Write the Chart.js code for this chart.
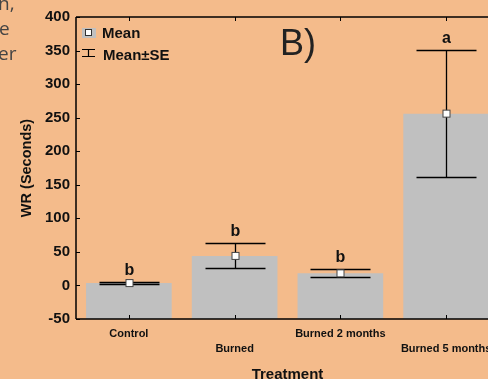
<!DOCTYPE html>
<html>
<head>
<meta charset="utf-8">
<script src="https://cdn.jsdelivr.net/npm/chart.js@4.4.1/dist/chart.umd.min.js"></script>
<style>
  html, body { margin: 0; padding: 0; background: #f4bb8b; overflow: hidden; }
  #wrap { position: relative; width: 488px; height: 379px; overflow: hidden; }
  canvas { position: absolute; left: 0; top: 0; }
</style>
</head>
<body>
<div id="wrap"><canvas id="grafico" width="510" height="379"></canvas></div>
<script>
var categorias = ['Control', 'Burned', 'Burned 2 months', 'Burned 5 months'];
var medias = [3.5, 44, 18, 256];
var erros = [1.7, 18.6, 6, 95];
var letras = ['b', 'b', 'b', 'a'];
var yTicks = [-50, 0, 50, 100, 150, 200, 250, 300, 350, 400];

var FONTE = '"Liberation Sans", Arial, sans-serif';
var PRETO = '#111';

var extras = {
  id: 'extras',
  afterDatasetsDraw: function (chart) {
    var ctx = chart.ctx, x = chart.scales.x, y = chart.scales.y, a = chart.chartArea;
    ctx.save();

    // moldura e ticks internos
    ctx.strokeStyle = '#000';
    ctx.lineWidth = 1.5;
    ctx.beginPath();
    ctx.moveTo(a.left, a.top); ctx.lineTo(a.right, a.top);
    ctx.moveTo(a.left, a.top); ctx.lineTo(a.left, a.bottom);
    ctx.moveTo(a.left, a.bottom); ctx.lineTo(a.right, a.bottom);
    ctx.stroke();
    ctx.lineWidth = 1;
    ctx.beginPath();
    yTicks.forEach(function (v) {
      var py = Math.round(y.getPixelForValue(v)) + 0.5;
      ctx.moveTo(a.left, py); ctx.lineTo(a.left + 4, py);
    });
    categorias.forEach(function (c, i) {
      var px = Math.round(x.getPixelForValue(i)) + 0.5;
      ctx.moveTo(px, a.bottom); ctx.lineTo(px, a.bottom - 4);
      ctx.moveTo(px, a.top); ctx.lineTo(px, a.top + 4);
    });
    ctx.stroke();

    // barras de erro, médias e letras
    categorias.forEach(function (c, i) {
      var px = Math.round(x.getPixelForValue(i)) + 0.5;
      var yTop = Math.round(y.getPixelForValue(medias[i] + erros[i])) + 0.5;
      var yBot = Math.round(y.getPixelForValue(medias[i] - erros[i])) + 0.5;
      var yMed = y.getPixelForValue(medias[i]);
      ctx.strokeStyle = '#000';
      ctx.lineWidth = 1.3;
      ctx.beginPath();
      ctx.moveTo(px, yTop); ctx.lineTo(px, yBot);
      ctx.moveTo(px - 30, yTop); ctx.lineTo(px + 30, yTop);
      ctx.moveTo(px - 30, yBot); ctx.lineTo(px + 30, yBot);
      ctx.stroke();

      ctx.fillStyle = '#fff';
      ctx.strokeStyle = '#444';
      ctx.lineWidth = 1;
      ctx.fillRect(px - 3.5, yMed - 3.5, 7, 7);
      ctx.strokeRect(px - 3.5, yMed - 3.5, 7, 7);

      ctx.fillStyle = PRETO;
      ctx.font = 'bold 16px ' + FONTE;
      ctx.textAlign = 'center';
      ctx.textBaseline = 'alphabetic';
      ctx.fillText(letras[i], px, yTop - 8);
    });

    // legenda
    ctx.fillStyle = '#c0c0c0';
    ctx.fillRect(82, 28, 14, 10);
    ctx.fillStyle = '#fff';
    ctx.strokeStyle = '#333';
    ctx.fillRect(85.5, 29.5, 6, 6);
    ctx.strokeRect(85.5, 29.5, 6, 6);
    ctx.strokeStyle = '#000';
    ctx.lineWidth = 1.2;
    ctx.beginPath();
    ctx.moveTo(88.5, 49); ctx.lineTo(88.5, 57);
    ctx.moveTo(82, 49.5); ctx.lineTo(95, 49.5);
    ctx.moveTo(82, 56.5); ctx.lineTo(95, 56.5);
    ctx.stroke();
    ctx.fillStyle = PRETO;
    ctx.font = 'bold 15px ' + FONTE;
    ctx.textAlign = 'left';
    ctx.fillText('Mean', 102, 38);
    ctx.fillText('Mean\u00b1SE', 103, 60);

    // rótulo do painel
    ctx.fillStyle = '#222';
    ctx.font = '36px ' + FONTE;
    ctx.fillText('B)', 280, 55);

    // pedaços do texto da página ao lado
    ctx.fillStyle = '#444';
    ctx.font = '19px "Open Sans", sans-serif';
    ctx.fillText('n,', -2, 10);
    ctx.fillText('e', -1, 35);
    ctx.fillText('er', -2, 60);

    ctx.restore();
  }
};

new Chart(document.getElementById('grafico'), {
  type: 'bar',
  data: {
    labels: categorias,
    datasets: [{
      data: medias.map(function (m) { return [-50, m]; }),
      backgroundColor: '#c0c0c0',
      borderWidth: 0,
      barPercentage: 0.81,
      categoryPercentage: 1
    }]
  },
  options: {
    responsive: false,
    animation: false,
    devicePixelRatio: 1,
    layout: { padding: { top: 17, right: 11, left: 0, bottom: 0 } },
    plugins: { legend: { display: false }, tooltip: { enabled: false } },
    scales: {
      x: {
        grid: { display: false, drawTicks: false },
        border: { display: false },
        afterFit: function (s) { s.height = 60; },
        ticks: {
          autoSkip: false,
          maxRotation: 0,
          padding: 8,
          color: PRETO,
          font: { family: FONTE, size: 11, weight: 'bold', lineHeight: 1.32 },
          callback: function (v, i) { return i % 2 ? ['', categorias[i]] : [categorias[i]]; }
        },
        title: {
          display: true,
          text: 'Treatment',
          color: PRETO,
          padding: { top: 0, bottom: -5 },
          font: { family: FONTE, size: 15, weight: 'bold' }
        }
      },
      y: {
        min: -50,
        max: 400,
        afterFit: function (s) { s.width = 76; },
        afterBuildTicks: function (s) { s.ticks = yTicks.map(function (v) { return { value: v }; }); },
        grid: { display: false, drawTicks: false },
        border: { display: false },
        ticks: {
          padding: 6,
          color: PRETO,
          font: { family: FONTE, size: 15, weight: 'bold' }
        },
        title: {
          display: true,
          text: 'WR (Seconds)',
          color: PRETO,
          padding: { top: 18, bottom: 0 },
          font: { family: FONTE, size: 14.5, weight: 'bold' }
        }
      }
    }
  },
  plugins: [extras]
});
</script>
</body>
</html>
